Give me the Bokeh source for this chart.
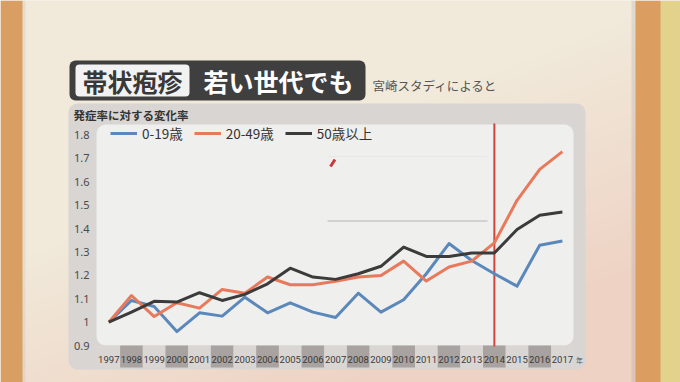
import numpy as np
from bokeh.plotting import figure
from bokeh.models import Range1d, BoxAnnotation, Label, Legend, LegendItem, ColumnDataSource
from bokeh.core.properties import value
from bokeh.embed import file_html
from bokeh.resources import INLINE

# ---------------- data ----------------
years = [1997, 1998, 1999, 2000, 2001, 2002, 2003, 2004, 2005, 2006, 2007,
         2008, 2009, 2010, 2011, 2012, 2013, 2014, 2015, 2016, 2017]
age_0_19 = [1.00, 1.093, 1.067, 0.96, 1.04, 1.026, 1.107, 1.04, 1.083, 1.043, 1.02,
            1.124, 1.043, 1.096, 1.207, 1.336, 1.264, 1.207, 1.154, 1.329, 1.347]
age_20_49 = [1.00, 1.114, 1.024, 1.083, 1.06, 1.14, 1.124, 1.193, 1.16, 1.16, 1.175,
             1.193, 1.20, 1.261, 1.176, 1.236, 1.261, 1.339, 1.521, 1.653, 1.729]
age_50_plus = [1.00, 1.043, 1.089, 1.086, 1.126, 1.093, 1.119, 1.164, 1.231, 1.193, 1.183,
               1.207, 1.239, 1.321, 1.281, 1.281, 1.296, 1.296, 1.396, 1.457, 1.471]
series_names = ["0-19歳", "20-49歳", "50歳以上"]
y_ticks = [0.9, 1.0, 1.1, 1.2, 1.3, 1.4, 1.5, 1.6, 1.7, 1.8]
y_tick_labels = ["0.9", "1", "1.1", "1.2", "1.3", "1.4", "1.5", "1.6", "1.7", "1.8"]
year_labels = [str(y) for y in years]
highlight_year = 2014
title_tag = "帯状疱疹"
title_main = "若い世代でも"
source_note = "宮崎スタディによると"
y_title = "発症率に対する変化率"
year_unit = "年"

# ---------------- geometry (page pixels -> data) ----------------
W, H = 680, 382
SX = 22.68          # px per year
SY = 234.0          # px per unit
X0_PAGE = 108.3     # page x of first year
Y1_PAGE = 321.7     # page y of value 1.0
x_start = years[0] - X0_PAGE / SX
x_end = x_start + W / SX
y_end = 1.0 + Y1_PAGE / SY
y_start = y_end - H / SY


def X(px):
    return x_start + px / SX


def Y(py):
    return y_end - py / SY


p = figure(width=W, height=H, output_backend="svg", toolbar_location=None,
           x_range=Range1d(x_start, x_end), y_range=Range1d(y_start, y_end),
           x_axis_location=None, y_axis_location=None, min_border=0,
           tools="")
p.outline_line_color = None
p.grid.visible = False
p.background_fill_color = "#efe8d8"
p.border_fill_color = "#efe8d8"

# ---------------- background bitmap ----------------
gy, gx = np.mgrid[0:H, 0:W]
px = gx + 0.5
py = gy + 0.5
cream = np.array([241, 233, 218], float)
pink = np.array([238, 208, 193], float)
w = np.clip(0.8 * (py - 170) / 200 + 0.6 * (px - 250) / 380, 0, 1) * 0.85
rgb = cream[None, None, :] * (1 - w[..., None]) + pink[None, None, :] * w[..., None]
rgb[px < 22] = [216, 158, 98]
rgb[(px >= 635) & (px < 660)] = [219, 157, 96]
rgb[px >= 660] = [226, 210, 140]
edge = (px >= 631) & (px < 635)
rgb[edge] = rgb[edge] * 0.93
edge2 = (px >= 22) & (px < 25)
rgb[edge2] = rgb[edge2] * 0.95
img = np.empty((H, W, 4), dtype=np.uint8)
img[..., :3] = rgb.astype(np.uint8)
img[..., 3] = 255
img = img[::-1].copy()
p.image_rgba(image=[img.view(np.uint32).reshape(H, W)], x=X(0), y=Y(H),
             dw=W / SX, dh=H / SY, level="image")

# ---------------- panels ----------------
def box(l, t, r, b, color, radius=0, level="underlay"):
    ba = BoxAnnotation(left=X(l), right=X(r), top=Y(t), bottom=Y(b),
                       fill_color=color, fill_alpha=1.0, line_color=None,
                       border_radius=radius, level=level)
    p.add_layout(ba)

box(68, 103, 585, 369, "#d8d5d2", 9)
box(96, 124, 573, 345, "#efefee", 9)
box(69, 60, 365, 100, "#3f3f3f", 6)
box(75, 64, 189, 96, "#f2f2f2", 4)

# year band cells
cell_colors = ["#dad6d4" if (y % 2 == 1) else "#a8a2a0" for y in years]
p.rect(x=years, y=Y(356), width=1.0, height=22 / SY, fill_color=cell_colors,
       line_color=None)

# glitch box remnant
p.segment(x0=[X(327)], y0=[Y(156)], x1=[X(487)], y1=[Y(156)], line_color="#e6e6e6", line_width=1)
p.segment(x0=[X(327)], y0=[Y(220.5)], x1=[X(487)], y1=[Y(220.5)], line_color="#c9c9c9", line_width=1.5)
p.segment(x0=[X(330)], y0=[Y(166)], x1=[X(334.5)], y1=[Y(159)], line_color="#c8383c", line_width=3)

# ---------------- text ----------------
CJK = "Noto Sans CJK JP"
p.add_layout(Label(x=X(132), y=Y(80), text=title_tag, text_font=CJK, text_font_size="25px",
                   text_font_style="bold", text_color="#383838", text_align="center",
                   text_baseline="middle"))
p.add_layout(Label(x=X(278), y=Y(80), text=title_main, text_font=CJK, text_font_size="25px",
                   text_font_style="bold", text_color="#ffffff", text_align="center",
                   text_baseline="middle"))
p.add_layout(Label(x=X(372), y=Y(85), text=source_note, text_font=CJK, text_font_size="12.5px",
                   text_color="#555555", text_align="left", text_baseline="middle"))
p.add_layout(Label(x=X(73), y=Y(114), text=y_title, text_font=CJK, text_font_size="11.5px",
                   text_font_style="bold", text_color="#333333", text_align="left",
                   text_baseline="middle"))

p.text(x=[X(89)] * len(y_ticks), y=y_ticks, text=y_tick_labels, text_font=value("Noto Sans"),
       text_font_size=value("11px"), text_color="#4a4a4a", text_align="right",
       text_baseline="middle")
p.text(x=years, y=[Y(359)] * len(years), text=year_labels,
       text_font=value("Roboto"), text_font_size=value("9.5px"),
       text_color="#3a3a3a", text_align="center", text_baseline="middle")
p.add_layout(Label(x=X(579), y=Y(359), text=year_unit, text_font=CJK, text_font_size="7px",
                   text_color="#555555", text_align="center", text_baseline="middle"))

# ---------------- highlight line ----------------
p.segment(x0=[highlight_year], y0=[Y(123)], x1=[highlight_year], y1=[Y(346)],
          line_color="#d2443f", line_width=2)

# ---------------- series ----------------
src = ColumnDataSource(dict(year=years, a=age_0_19, b=age_20_49, c=age_50_plus))
r1 = p.line("year", "a", source=src, line_color="#5b88bb", line_width=3, line_join="round")
r2 = p.line("year", "b", source=src, line_color="#e8795b", line_width=3, line_join="round")
r3 = p.line("year", "c", source=src, line_color="#3b3b3b", line_width=3, line_join="round")

legend = Legend(items=[LegendItem(label=series_names[0], renderers=[r1]),
                       LegendItem(label=series_names[1], renderers=[r2]),
                       LegendItem(label=series_names[2], renderers=[r3])],
                orientation="horizontal", location=(110, 239), padding=0, margin=0,
                spacing=11, glyph_width=27, glyph_height=20, label_height=20,
                label_standoff=5, background_fill_alpha=0, border_line_color=None,
                label_text_font=CJK, label_text_font_size="13.5px",
                label_text_color="#333333")
p.add_layout(legend)

open("out.html", "w").write(file_html(p, INLINE))
